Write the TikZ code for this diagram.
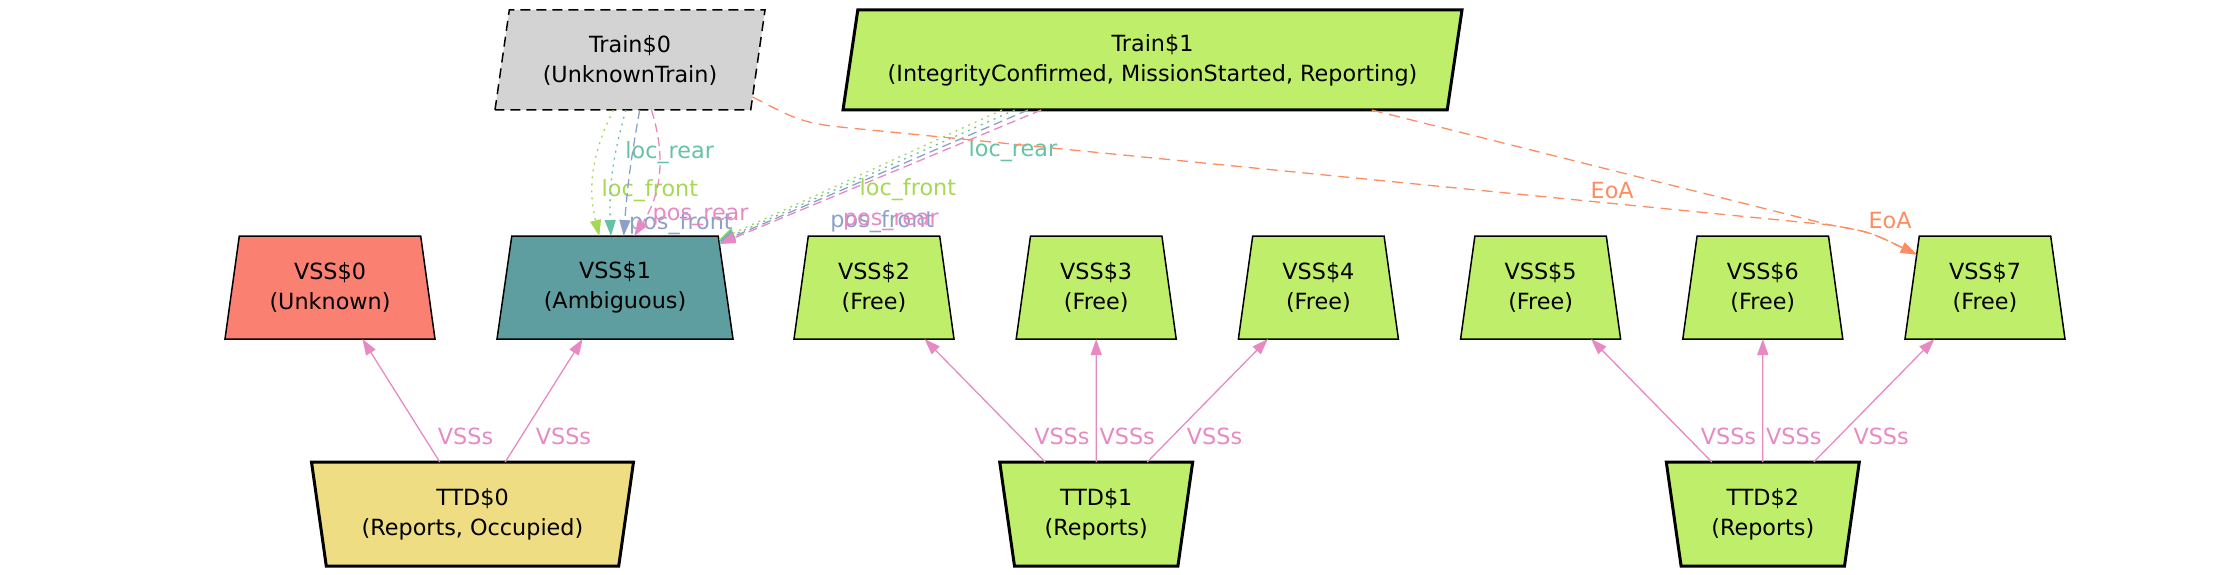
\documentclass[tikz,border=0pt]{standalone}
\usepackage{fontspec}
\setmainfont{DejaVu Sans}
\usepackage{xcolor}
\usetikzlibrary{shapes.geometric,arrows.meta,positioning,calc}

\definecolor{vssfree}{HTML}{BFEE6A}
\definecolor{vssunknown}{HTML}{FA8072}
\definecolor{vssambig}{HTML}{5F9EA0}
\definecolor{ttdocc}{HTML}{EEDD82}
\definecolor{trainunk}{HTML}{D3D3D3}
\definecolor{cfront}{HTML}{A6D854}
\definecolor{crear}{HTML}{66C2A5}
\definecolor{pfront}{HTML}{8DA0CB}
\definecolor{prear}{HTML}{E78AC3}
\definecolor{eoacol}{HTML}{FC8D62}

\begin{document}
\begin{tikzpicture}[
  x=1pt, y=-1pt,
  font=\fontsize{22.3}{30}\selectfont,
  node distance=76.5pt,
  box/.style={trapezium, trapezium stretches body, draw, line width=1.5pt, align=center, inner sep=0pt, outer sep=0pt},
  trainbox/.style={box, trapezium left angle=74, trapezium right angle=106, minimum height=100pt},
  vss/.style={box, trapezium left angle=74, trapezium right angle=74, minimum width=160pt, minimum height=103pt, fill=vssfree},
  ttd/.style={box, line width=3pt, trapezium left angle=106, trapezium right angle=106, minimum width=193pt, minimum height=104pt, fill=vssfree},
  arr/.style={-{Triangle[length=16pt, width=11pt]}, line width=1.3pt},
  link/.style={arr, draw=prear},
  vsslbl/.style={text=prear, pos=.21, xshift=42pt},
  locf/.style={arr, draw=cfront, dash pattern=on 2pt off 5pt},
  locr/.style={arr, draw=crear, dash pattern=on 2pt off 5pt},
  posf/.style={arr, draw=pfront, dash pattern=on 9pt off 5pt},
  posr/.style={arr, draw=prear, dash pattern=on 9pt off 5pt},
  eoa/.style={arr, draw=eoacol, dash pattern=on 11pt off 7pt}
]
\useasboundingbox (0,0) rectangle (2229,575);

\node[trainbox, fill=trainunk, dash pattern=on 10pt off 6pt, minimum width=270pt] (t0) at (630,60) {Train\$0\\(UnknownTrain)};
\node[trainbox, fill=vssfree, line width=3pt, minimum width=619pt] (t1) at (1152.5,60) {Train\$1\\(IntegrityConfirmed, MissionStarted, Reporting)};

\node[vss, fill=vssunknown, minimum width=210pt] (v0) at (330,287.5) {VSS\$0\\(Unknown)};
\node[vss, fill=vssambig, minimum width=236pt] (v1) at (615,287.5) {VSS\$1\\(Ambiguous)};
\node[vss] (v2) at (874,287.5) {VSS\$2\\(Free)};
\node[vss, right=of v2] (v3) {VSS\$3\\(Free)};
\node[vss, right=of v3] (v4) {VSS\$4\\(Free)};
\node[vss, right=of v4] (v5) {VSS\$5\\(Free)};
\node[vss, right=of v5] (v6) {VSS\$6\\(Free)};
\node[vss, right=of v6] (v7) {VSS\$7\\(Free)};

\node[ttd, fill=ttdocc, minimum width=322pt] (ttd0) at ($(v0)!0.5!(v1)+(0,226.5)$) {TTD\$0\\(Reports, Occupied)};
\node[ttd, below=123pt of v3] (ttd1) {TTD\$1\\(Reports)};
\node[ttd, below=123pt of v6] (ttd2) {TTD\$2\\(Reports)};

\draw[link] (ttd0) -- node[vsslbl] (s0) {VSSs} (v0);
\draw[link] (ttd0) -- node[vsslbl] (s1) {VSSs} (v1);
\draw[link] (ttd1) -- node[vsslbl] (s2) {VSSs} (v2);
\draw[link] (ttd1) -- node[vsslbl, xshift=-11pt] (s3) {VSSs} (v3);
\draw[link] (ttd1) -- node[vsslbl] (s4) {VSSs} (v4);
\draw[link] (ttd2) -- node[vsslbl] (s5) {VSSs} (v5);
\draw[link] (ttd2) -- node[vsslbl, xshift=-11pt] (s6) {VSSs} (v6);
\draw[link] (ttd2) -- node[vsslbl] (s7) {VSSs} (v7);

\draw[locf] ($(t0.bottom left corner)!0.463!(t0.bottom right corner)$) to[bend right=20]
  node[text=cfront, pos=.635, xshift=57pt, yshift=-3pt] (lf0) {loc\_front} ($(v1.top left corner)!0.424!(v1.top right corner)$);
\draw[locr] ($(t0.bottom left corner)!0.512!(t0.bottom right corner)$) to[bend right=9]
  node[text=crear, pos=.33, xshift=54pt] (lr0) {loc\_rear} ($(v1.top left corner)!0.48!(v1.top right corner)$);
\draw[posf] ($(t0.bottom left corner)!0.566!(t0.bottom right corner)$) to[bend right=3]
  node[text=pfront, pos=.89, xshift=56pt, yshift=-3pt] (pf0) {pos\_front} ($(v1.top left corner)!0.542!(v1.top right corner)$);
\draw[posr] ($(t0.bottom left corner)!0.612!(t0.bottom right corner)$) to[bend left=25]
  node[text=prear, pos=.82, xshift=54pt, yshift=-3pt] (pr0) {pos\_rear} ($(v1.top left corner)!0.593!(v1.top right corner)$);

\draw[locf] ($(t1.bottom left corner)!0.263!(t1.bottom right corner)$) --
  node[text=cfront, pos=.59, xshift=73pt, yshift=-3pt] (lf1) {loc\_front} (v1);
\draw[locr] ($(t1.bottom left corner)!0.284!(t1.bottom right corner)$) --
  node[text=crear, pos=.31, xshift=90pt] (lr1) {loc\_rear} (v1);
\draw[posf] ($(t1.bottom left corner)!0.306!(t1.bottom right corner)$) --
  node[text=pfront, pos=.815, xshift=106pt, yshift=-3pt] (pf1) {pos\_front} (v1);
\draw[posr] ($(t1.bottom left corner)!0.328!(t1.bottom right corner)$) --
  node[text=prear, pos=.815, xshift=112pt, yshift=-3pt] (pr1) {pos\_rear} (v1);

\draw[eoa] ($(t0.bottom right corner)!0.13!(t0.top right corner)$) .. controls (790,116) and (800,123) .. (840,127)
  -- node[text=eoacol, pos=.78, yshift=13pt] (eoa0) {EoA} (1830,225) .. controls (1870,232) .. (v7);
\draw[eoa] ($(t1.bottom left corner)!0.875!(t1.bottom right corner)$) --
  node[text=eoacol, pos=1, xshift=60pt, yshift=4pt] (eoa1) {EoA} (1830,225) .. controls (1870,232) .. (v7);
\end{tikzpicture}
\end{document}
